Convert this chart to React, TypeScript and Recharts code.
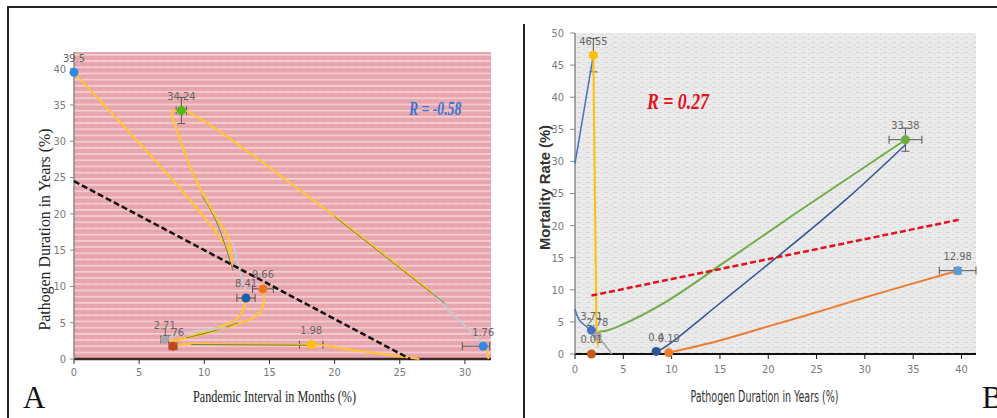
import React from 'react';
import { ScatterChart, Scatter, XAxis, YAxis, ZAxis, ErrorBar, LabelList, Cell } from 'recharts';

// ---------- Panel A: pandemic interval vs pathogen duration ----------
const aTicksX = [0, 5, 10, 15, 20, 25, 30];
const aTicksY = [0, 5, 10, 15, 20, 25, 30, 35, 40];

const aPoints = [
  { x: 0, y: 39.5, label: '39.5', ex: 0, ey: 0 },
  { x: 8.24, y: 34.24, label: '34.24', ex: 0.4, ey: 1.8 },
  { x: 13.2, y: 8.41, label: '8.41', ex: 0.7, ey: 0 },
  { x: 14.5, y: 9.66, label: '9.66', ex: 0.8, ey: 0 },
  { x: 6.96, y: 2.71, label: '2.71', ex: 0.3, ey: 0 },
  { x: 7.6, y: 1.76, label: '1.76', ex: 0.3, ey: 0 },
  { x: 18.2, y: 1.98, label: '1.98', ex: 0.9, ey: 0 },
  { x: 31.4, y: 1.76, label: '1.76', ex: [1.6, 0.5], ey: 0 },
];
const aTrend = [
  { x: 0, y: 24.5 },
  { x: 25.8, y: 0 },
];
const aFromTop = [
  { x: 0, y: 39.5 }, { x: 8, y: 23.8 }, { x: 12.1, y: 14.6 },
];
const aLoop = [
  { x: 8.24, y: 34.24 }, { x: 7.5, y: 34 }, { x: 7.8, y: 32 }, { x: 8.6, y: 27.9 }, { x: 9.6, y: 23.8 },
  { x: 10.9, y: 19.6 }, { x: 11.9, y: 16.4 }, { x: 12.1, y: 13.2 },
];
const aLong = [
  { x: 8.24, y: 34.24 }, { x: 9, y: 33.8 }, { x: 12.1, y: 30.2 }, { x: 17.3, y: 23.3 }, { x: 22.4, y: 16.4 },
  { x: 27.5, y: 9.1 },
];
const aLongTail = [
  { x: 27.5, y: 9.1 }, { x: 29.5, y: 5.4 }, { x: 31.4, y: 2.2 },
];
const aOliveLong = [
  { x: 20, y: 19.6 }, { x: 28.5, y: 7.6 },
];
const aOliveUpper = [
  { x: 9.8, y: 22.5 }, { x: 11, y: 18.6 }, { x: 12.2, y: 12.2 },
];
const aGrayUpper = [
  { x: 12.2, y: 16 }, { x: 12.6, y: 13 }, { x: 13.2, y: 9.4 },
];
const aFromBlue = [
  { x: 13.2, y: 8.41 }, { x: 13, y: 6.8 }, { x: 12.1, y: 5.1 }, { x: 9.6, y: 3.5 }, { x: 7.6, y: 2.4 },
];
const aFromOrange = [
  { x: 14.5, y: 9.66 }, { x: 14.6, y: 8.1 }, { x: 14.2, y: 6.3 }, { x: 12.7, y: 4.9 }, { x: 9.6, y: 3.3 },
  { x: 7.4, y: 2.5 },
];
const aOliveLower = [
  { x: 8.6, y: 2.9 }, { x: 11, y: 4 }, { x: 12.6, y: 5 },
];
const aGrayLower = [
  { x: 6.96, y: 2.71 }, { x: 8.5, y: 3.6 }, { x: 11.7, y: 4.3 },
];
const aBottom = [
  { x: 7.6, y: 1.76 }, { x: 9, y: 2.1 }, { x: 12, y: 2 }, { x: 18.2, y: 1.98 }, { x: 19.8, y: 1.7 },
  { x: 22.4, y: 1 }, { x: 24.9, y: 0.4 }, { x: 26.5, y: 0 },
];
const aOliveBottom = [
  { x: 9, y: 2 }, { x: 18, y: 1.9 },
];
const aRightStub = [
  { x: 31.4, y: 1.76 }, { x: 31.7, y: 1 }, { x: 31.8, y: 0 },
];

// ---------- Panel B: pathogen duration vs mortality ----------
const bTicksX = [0, 5, 10, 15, 20, 25, 30, 35, 40];
const bTicksY = [0, 5, 10, 15, 20, 25, 30, 35, 40, 45, 50];

const bPoints = [
  { x: 1.9, y: 46.55, label: '46.55', ex: 0, ey: 2.6 },
  { x: 1.7, y: 3.71, label: '3.71', ex: 0, ey: 0 },
  { x: 2.3, y: 2.78, label: '2.78', ex: 0, ey: 0 },
  { x: 1.7, y: 0.01, label: '0.01', ex: 0, ey: 0 },
  { x: 8.4, y: 0.4, label: '0.4', ex: 0, ey: 0 },
  { x: 9.7, y: 0.19, label: '0.19', ex: 0, ey: 0 },
  { x: 34.2, y: 33.38, label: '33.38', ex: 1.7, ey: 1.8 },
  { x: 39.6, y: 12.98, label: '12.98', ex: 1.9, ey: 0.5 },
];
const bTrend = [
  { x: 1.7, y: 9.1 },
  { x: 39.7, y: 20.9 },
];
const bBlueTop = [
  { x: 0, y: 29.7 }, { x: 1.9, y: 46.55 },
];
const bBlueLow = [
  { x: 0, y: 7 }, { x: 0.5, y: 5.2 }, { x: 1.7, y: 3.71 },
];
const bYellow = [
  { x: 1.9, y: 46.55 }, { x: 2.2, y: 6 }, { x: 2.5, y: 3.6 },
];
const bGreen = [
  { x: 2.5, y: 3.5 }, { x: 4.5, y: 4.3 }, { x: 9.5, y: 8.2 }, { x: 14.8, y: 13.6 }, { x: 24.5, y: 23.6 },
  { x: 34.2, y: 33.38 },
];
const bGray = [
  { x: 2.3, y: 2.78 }, { x: 3, y: 1.6 }, { x: 3.8, y: 0 },
];
const bBlue = [
  { x: 8.4, y: 0.4 }, { x: 10, y: 1.8 }, { x: 15, y: 7.9 }, { x: 21, y: 15.2 }, { x: 28, y: 24 },
  { x: 34.2, y: 32.6 },
];
const bOrange = [
  { x: 9.7, y: 0.19 }, { x: 15, y: 2.1 }, { x: 20, y: 4.3 }, { x: 25, y: 6.5 }, { x: 30, y: 8.8 },
  { x: 35, y: 11 }, { x: 39.6, y: 12.98 },
];

const aPointColors = ['#2f8ae0', '#4cbb17', '#1f5fa6', '#f07518', '#a6a6a6', '#c4451c', '#ffc000', '#2f8ae0'];
const bPointColors = ['#ffc000', '#4472c4', '#a5a5a5', '#c55a11', '#2e5597', '#ed7d31', '#70ad47', '#5b9bd5'];

const tickFont = "'Liberation Sans Narrow', 'DejaVu Sans Condensed', 'Liberation Sans', sans-serif";
const noShape = () => <g />;

const curve = (data: { x: number; y: number }[], color: string, width: number, key: string, dash?: string, joint = 'natural') => (
  <Scatter
    key={key}
    data={data}
    fill={color}
    shape={noShape}
    line={{ stroke: color, strokeWidth: width, strokeDasharray: dash }}
    lineJointType={joint as any}
    isAnimationActive={false}
  />
);

const xTitle = (text: string, offset: number, dx: number, length: number, font: string, size: number, color: string, weight = 'normal') =>
  (props: any) => {
    const vb = props.viewBox || {};
    return (
      <text x={vb.x + vb.width / 2 + dx} y={vb.y + vb.height - offset} textAnchor="middle" fontFamily={font}
        fontSize={size} fill={color} fontWeight={weight} textLength={length} lengthAdjust="spacingAndGlyphs">
        {text}
      </text>
    );
  };

const yTitle = (text: string, offset: number, dy: number, length: number, font: string, size: number, color: string, weight = 'normal') =>
  (props: any) => {
    const vb = props.viewBox || {};
    const cx = vb.x + offset;
    const cy = vb.y + vb.height / 2 + dy;
    return (
      <text x={cx} y={cy} transform={`rotate(-90, ${cx}, ${cy})`} textAnchor="middle" dominantBaseline="central"
        fontFamily={font} fontSize={size} fill={color} fontWeight={weight} textLength={length} lengthAdjust="spacingAndGlyphs">
        {text}
      </text>
    );
  };

const PanelA = () => (
  <ScatterChart width={500} height={418} margin={{ top: 52, right: 9, bottom: 9, left: 8 }}>
    <defs>
      <pattern id="pinkStripes" width="8" height="6.2" patternUnits="userSpaceOnUse">
        <rect width="8" height="6.2" fill="#e8a6ae" />
        <rect y="4.6" width="8" height="1.3" fill="#f6dadd" />
        <rect x="2" y="1.5" width="3" height="1" fill="#dd939c" opacity="0.5" />
      </pattern>
    </defs>
    <rect x={74} y={52} width={417} height={307} fill="url(#pinkStripes)" />
    <XAxis type="number" dataKey="x" domain={[0, 32]} ticks={aTicksX} height={50}
      tick={{ fill: '#7a7a7a', fontSize: 11, fontFamily: tickFont }} tickSize={5} tickMargin={4}
      axisLine={{ stroke: '#3a2626', strokeWidth: 2.5 }} tickLine={{ stroke: '#3a2626' }}
      label={{ content: xTitle('Pandemic Interval in Months (%)', 7, -8, 163, "'Liberation Serif', serif", 17, '#222') }} />
    <YAxis type="number" dataKey="y" domain={[0, 42.3]} ticks={aTicksY} width={66}
      tick={{ fill: '#7a7a7a', fontSize: 11, fontFamily: tickFont }} tickSize={4} tickMargin={4}
      axisLine={{ stroke: '#8a8a8a', strokeWidth: 1.5 }} tickLine={{ stroke: '#8a8a8a' }}
      label={{ content: yTitle('Pathogen Duration in Years (%)', 36, 24, 202, "'Liberation Serif', serif", 16, '#222') }} />
    <ZAxis range={[80, 80]} />
    {curve(aFromTop, '#ffc72c', 2, 'a1')}
    {curve(aOliveUpper, '#6f8a2c', 1, 'a2')}
    {curve(aLoop, '#ffc72c', 2, 'a3')}
    {curve(aLong, '#ffc72c', 2, 'a4')}
    {curve(aLongTail, '#c9c9cf', 2, 'a5')}
    {curve(aOliveLong, '#6f8a2c', 1, 'a6')}
    {curve(aGrayUpper, '#c9c9cf', 2, 'a7')}
    {curve(aFromBlue, '#ffc72c', 2, 'a8')}
    {curve(aFromOrange, '#ffc72c', 2, 'a9')}
    {curve(aOliveLower, '#6f8a2c', 1, 'a10')}
    {curve(aGrayLower, '#c9c9cf', 2, 'a11')}
    {curve(aBottom, '#ffc72c', 2, 'a12')}
    {curve(aOliveBottom, '#6f8a2c', 1, 'a13')}
    {curve(aRightStub, '#ffc72c', 2, 'a14')}
    {curve(aTrend, '#111', 2.5, 'a15', '6 3', 'linear')}
    <Scatter data={aPoints} isAnimationActive={false}>
      {aPoints.map((p, i) => <Cell key={p.label + i} fill={aPointColors[i]} />)}
      <ErrorBar dataKey="ex" direction="x" width={4} stroke="#555" strokeWidth={1} />
      <ErrorBar dataKey="ey" direction="y" width={4} stroke="#555" strokeWidth={1} />
      <LabelList dataKey="label" position="top" offset={6} fill="#666" fontSize={11} fontFamily={tickFont} />
    </Scatter>
  </ScatterChart>
);

const PanelB = () => (
  <ScatterChart width={474} height={418} margin={{ top: 33, right: 21, bottom: 14, left: 8 }}>
    <defs>
      <pattern id="grayTexture" width="9" height="5" patternUnits="userSpaceOnUse">
        <rect width="9" height="5" fill="#eaeaea" />
        <rect x="0" y="2" width="4" height="1" fill="#d5d5d5" />
        <rect x="6" y="4" width="2" height="1" fill="#dadada" />
      </pattern>
    </defs>
    <rect x={52} y={33} width={401} height={321} fill="url(#grayTexture)" />
    <XAxis type="number" dataKey="x" domain={[0, 40]} ticks={bTicksX} height={50}
      tick={{ fill: '#7a7a7a', fontSize: 11, fontFamily: tickFont }} tickSize={5} tickMargin={6}
      axisLine={{ stroke: '#111', strokeWidth: 2 }} tickLine={{ stroke: '#111' }}
      label={{ content: xTitle('Pathogen Duration in Years (%)', 2, -11, 148, tickFont, 16, '#333') }} />
    <YAxis type="number" dataKey="y" domain={[0, 50]} ticks={bTicksY} width={44}
      tick={{ fill: '#7a7a7a', fontSize: 11, fontFamily: tickFont }} tickSize={5} tickMargin={6}
      axisLine={{ stroke: '#8a8a8a', strokeWidth: 1.5 }} tickLine={{ stroke: '#8a8a8a' }}
      label={{ content: yTitle('Mortality Rate (%)', 14, -6, 125, "'Liberation Sans', sans-serif", 14, '#333', 'bold') }} />
    <ZAxis range={[70, 70]} />
    {curve(bBlueTop, '#4472c4', 1.5, 'b1')}
    {curve(bBlueLow, '#4472c4', 1.5, 'b2')}
    {curve(bYellow, '#ffc000', 2, 'b3')}
    {curve(bGray, '#a5a5a5', 1.5, 'b4')}
    {curve(bGreen, '#70ad47', 2, 'b5')}
    {curve(bBlue, '#2f5597', 1.5, 'b6')}
    {curve(bOrange, '#ed7d31', 2, 'b7')}
    {curve(bTrend, '#e3101e', 2.5, 'b8', '6 3', 'linear')}
    <Scatter data={bPoints} isAnimationActive={false}>
      {bPoints.map((p, i) => <Cell key={p.label + i} fill={bPointColors[i]} />)}
      <ErrorBar dataKey="ex" direction="x" width={4} stroke="#555" strokeWidth={1} />
      <ErrorBar dataKey="ey" direction="y" width={4} stroke="#555" strokeWidth={1} />
      <LabelList dataKey="label" position="top" offset={6} fill="#666" fontSize={11} fontFamily={tickFont} />
    </Scatter>
  </ScatterChart>
);

const serifBI: React.CSSProperties = {
  position: 'absolute',
  fontFamily: "'Liberation Serif', serif",
  fontWeight: 'bold',
  fontStyle: 'italic',
  lineHeight: 1,
  whiteSpace: 'nowrap',
  transformOrigin: 'left top',
};

export default function App() {
  return (
    <div style={{ position: 'absolute', left: 0, top: 0, width: 997, height: 418, background: '#fff', overflow: 'hidden' }}>
      <div style={{ position: 'absolute', left: 7, top: 6, width: 990, height: 2, background: '#222' }} />
      <div style={{ position: 'absolute', left: 7, top: 6, width: 1.5, height: 412, background: '#222' }} />
      <div style={{ position: 'absolute', left: 523, top: 24, width: 1.5, height: 394, background: '#222' }} />
      <div style={{ position: 'absolute', left: 0, top: 0 }}>
        <PanelA />
      </div>
      <div style={{ position: 'absolute', left: 523, top: 0 }}>
        <PanelB />
      </div>
      <div style={{ ...serifBI, left: 409, top: 99, fontSize: 19, color: '#2f75d6', transform: 'scaleX(0.72)' }}>R = -0.58</div>
      <div style={{ ...serifBI, left: 647, top: 89, fontSize: 24, color: '#e3101e', transform: 'scaleX(0.74)' }}>R = 0.27</div>
      <div style={{ position: 'absolute', left: 23, top: 382, fontSize: 31, lineHeight: 1, fontFamily: "'Liberation Serif', serif", color: '#111' }}>A</div>
      <div style={{ position: 'absolute', left: 982, top: 382, fontSize: 31, lineHeight: 1, fontFamily: "'Liberation Serif', serif", color: '#111' }}>B</div>
    </div>
  );
}
